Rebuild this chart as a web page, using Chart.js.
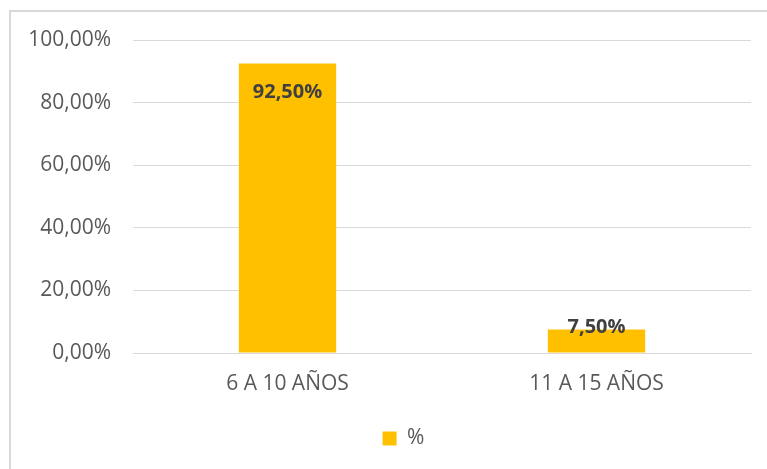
<!DOCTYPE html>
<html>
<head>
<meta charset="utf-8">
<script src="https://cdn.jsdelivr.net/npm/chart.js@4"></script>
<style>
  html, body { margin: 0; padding: 0; background: #fff; }
  #wrap { position: relative; width: 767px; height: 469px; overflow: hidden; }
  #frame {
    position: absolute; left: 9px; top: 10px; width: 800px; height: 500px;
    border-left: 2px solid #d9d9d9; border-top: 2px solid #d9d9d9;
  }
  canvas { position: absolute; left: 0; top: 0; }
</style>
</head>
<body>
<div id="wrap">
  <div id="frame"></div>
  <canvas id="grafico" width="767" height="469"></canvas>
</div>
<script>
// Datos del gráfico
const categorias = ['6 A 10 AÑOS', '11 A 15 AÑOS'];
const porcentajes = [92.5, 7.5];
const serieNombre = '%';
const colorBarra = '#FFC000';

// Formato con coma decimal: 92,50%
function formatoPct(v) {
  return v.toFixed(2).replace('.', ',') + '%';
}

// Etiquetas de datos dentro del extremo de la barra
const etiquetasPlugin = {
  id: 'etiquetas',
  afterLayout(chart) {
    // leyenda centrada bajo el área del gráfico, no bajo todo el lienzo
    chart.legend.left += 56;
  },
  afterDatasetsDraw(chart) {
    const ctx = chart.ctx;
    const meta = chart.getDatasetMeta(0);
    ctx.save();
    ctx.font = 'bold 20px "Open Sans"';
    ctx.fillStyle = '#404040';
    ctx.textAlign = 'center';
    ctx.textBaseline = 'middle';
    meta.data.forEach((bar, i) => {
      const alto = bar.base - bar.y;
      const y = alto > 40 ? bar.y + 29 : bar.y - 2;
      ctx.fillText(formatoPct(porcentajes[i]), bar.x, y);
    });
    ctx.restore();
  }
};

const ctx = document.getElementById('grafico').getContext('2d');
new Chart(ctx, {
  type: 'bar',
  data: {
    labels: categorias,
    datasets: [{
      label: serieNombre,
      data: porcentajes,
      backgroundColor: colorBarra,
      borderWidth: 0,
      categoryPercentage: 1,
      barPercentage: 0.315
    }]
  },
  options: {
    responsive: false,
    animation: false,
    layout: { padding: { top: 40, right: 16, bottom: 10, left: 0 } },
    plugins: {
      legend: {
        display: true,
        position: 'bottom',
        labels: {
          color: '#595959',
          font: { family: '"Open Sans"', size: 21 },
          boxWidth: 14,
          boxHeight: 14,
          padding: 14
        }
      },
      tooltip: { enabled: false }
    },
    scales: {
      x: {
        grid: { display: false, drawTicks: false },
        border: { display: true, color: '#d9d9d9', width: 1 },
        ticks: {
          color: '#595959',
          font: { family: '"Open Sans"', size: 21 },
          padding: 18,
          maxRotation: 0
        },
        afterFit(scale) { scale.height = 61; }
      },
      y: {
        min: 0,
        max: 100,
        grid: { color: '#d9d9d9', lineWidth: 1, drawTicks: false },
        border: { display: false },
        ticks: {
          stepSize: 20,
          color: '#595959',
          font: { family: '"Open Sans"', size: 21 },
          padding: 22,
          callback: (v) => formatoPct(v)
        },
        afterFit(scale) { scale.width = 133; }
      }
    }
  },
  plugins: [etiquetasPlugin]
});
</script>
</body>
</html>
